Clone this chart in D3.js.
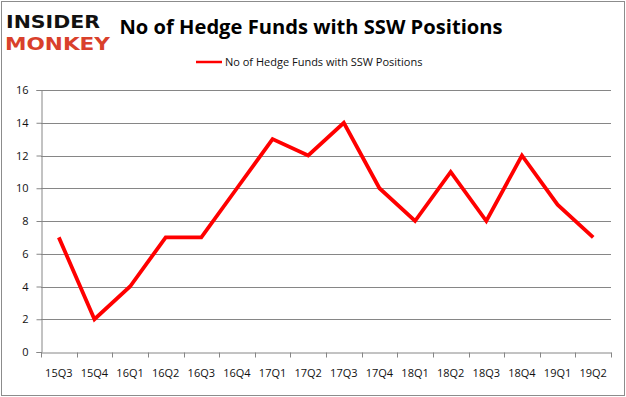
<!DOCTYPE html>
<html>
<head>
<meta charset="utf-8">
<script src="https://cdn.jsdelivr.net/npm/d3@7"></script>
<style>
  body { margin: 0; background: #fff; }
  svg { display: block; font-family: "Open Sans", "Liberation Sans", sans-serif; }
</style>
</head>
<body>
<svg id="chart" width="626" height="397"></svg>
<script>
'use strict';

// data
const quarters = ['15Q3','15Q4','16Q1','16Q2','16Q3','16Q4','17Q1','17Q2','17Q3','17Q4','18Q1','18Q2','18Q3','18Q4','19Q1','19Q2'];
const funds = [7,2,4,7,7,10,13,12,14,10,8,11,8,12,9,7];
const yTicks = [0,2,4,6,8,10,12,14,16];
const seriesName = 'No of Hedge Funds with SSW Positions';

const W = 626, H = 397;
const m = { left: 41, right: 15, top: 90, bottom: 45 };

const svg = d3.select('#chart');

// outer frame
svg.append('rect')
  .attr('x', 1.5).attr('y', 1.5)
  .attr('width', W - 3).attr('height', H - 3)
  .attr('fill', '#fff').attr('stroke', '#8c8c8c').attr('stroke-width', 1);

// logo
svg.append('text').attr('x', 6).attr('y', 28)
  .attr('font-family', '"DejaVu Sans", sans-serif').attr('font-weight', 'bold')
  .attr('font-size', 18).attr('textLength', 94).attr('lengthAdjust', 'spacingAndGlyphs')
  .attr('fill', '#111').text('INSIDER');
svg.append('text').attr('x', 5).attr('y', 50)
  .attr('font-family', '"DejaVu Sans", sans-serif').attr('font-weight', 'bold')
  .attr('font-size', 18).attr('textLength', 105).attr('lengthAdjust', 'spacingAndGlyphs')
  .attr('fill', '#d9402b').text('MONKEY');

// title
svg.append('text').attr('x', 311).attr('y', 34)
  .attr('text-anchor', 'middle').attr('font-weight', 'bold').attr('font-size', 20)
  .attr('textLength', 383).attr('lengthAdjust', 'spacingAndGlyphs')
  .attr('fill', '#000').text(seriesName);

// legend
svg.append('line').attr('x1', 196).attr('x2', 222).attr('y1', 62).attr('y2', 62)
  .attr('stroke', '#ff0000').attr('stroke-width', 2.5);
svg.append('text').attr('x', 225).attr('y', 66)
  .attr('font-size', 11).attr('fill', '#111').text(seriesName);

// scales
const x = d3.scaleBand().domain(quarters).range([m.left, W - m.right]);
const y = d3.scaleLinear().domain([0, 16]).range([H - m.bottom, m.top]);

// gridlines
svg.append('g').selectAll('line').data(yTicks.slice(1)).join('line')
  .attr('x1', m.left).attr('x2', W - m.right)
  .attr('y1', d => Math.round(y(d)) + 0.5).attr('y2', d => Math.round(y(d)) + 0.5)
  .attr('stroke', '#868686').attr('stroke-width', 1);

// y axis
const yAxis = svg.append('g')
  .attr('transform', `translate(${m.left + 0.5},0)`)
  .call(d3.axisLeft(y).tickValues(yTicks).tickSize(5).tickPadding(8));
yAxis.select('.domain').attr('stroke', '#868686');
yAxis.selectAll('.tick line').attr('stroke', '#868686');
yAxis.selectAll('text').attr('font-size', 11).attr('fill', '#111')
  .attr('font-family', '"Open Sans", "Liberation Sans", sans-serif');

// x axis
const xAxis = svg.append('g')
  .attr('transform', `translate(0,${Math.round(y(0)) + 0.5})`)
  .call(d3.axisBottom(x).tickSize(0).tickPadding(17));
xAxis.select('.domain').attr('stroke', '#868686');
xAxis.selectAll('text').attr('font-size', 11).attr('fill', '#111')
  .attr('font-family', '"Open Sans", "Liberation Sans", sans-serif');
// band boundary ticks
xAxis.append('g').selectAll('line').data(quarters.concat(['end'])).join('line')
  .attr('x1', (d, i) => Math.round(m.left + i * x.step()) + 0.5)
  .attr('x2', (d, i) => Math.round(m.left + i * x.step()) + 0.5)
  .attr('y1', 0).attr('y2', 5)
  .attr('stroke', '#868686');

// line
const line = d3.line()
  .x((d, i) => x(quarters[i]) + x.bandwidth() / 2)
  .y(d => y(d));
svg.append('path').datum(funds)
  .attr('d', line)
  .attr('fill', 'none').attr('stroke', '#ff0000')
  .attr('stroke-width', 3.8).attr('stroke-linejoin', 'miter');
</script>
</body>
</html>
